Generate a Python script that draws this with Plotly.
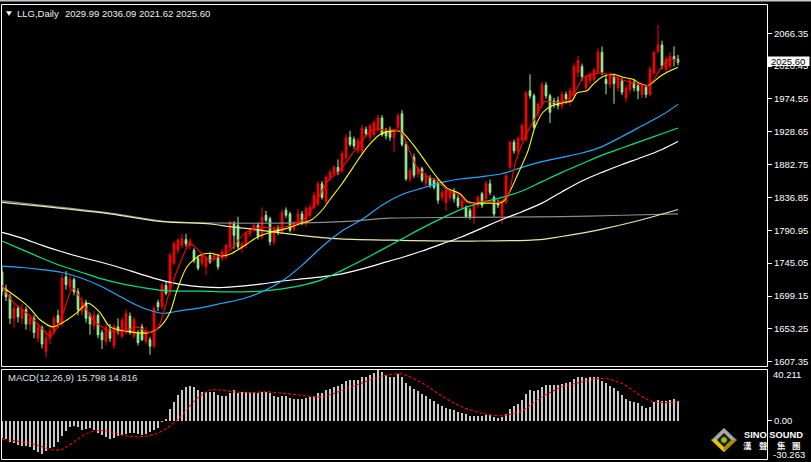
import plotly.graph_objects as go

# ---------------- data ----------------
IDX = list(range(170))

OPEN = [1733,1708,1698,1668,1682,1668,1680,1660,1668,1640,1655,1622,1640,1650,1672,1660,1726,1712,1722,1705,
        1678,1690,1672,1658,1672,1648,1636,1652,1630,1656,1643,1648,1671,1643,1647,1656,1636,1638,1629,1690,
        1684,1714,1705,1745,1763,1770,1778,1770,1763,1752,1745,1740,1756,1751,1754,1752,1754,1767,1800,1798,
        1766,1770,1786,1791,1798,1782,1812,1807,1775,1794,1789,1819,1814,1793,1802,1814,1800,1812,1823,1828,
        1856,1831,1865,1870,1879,1874,1893,1921,1918,1902,1902,1932,1921,1925,1932,1948,1930,1932,1921,1935,
        1954,1911,1863,1893,1870,1877,1856,1865,1861,1858,1837,1830,1837,1844,1836,1823,1823,1819,1808,1826,
        1842,1835,1856,1837,1830,1812,1830,1879,1914,1902,1918,1918,1986,1979,1955,1967,1994,1979,1972,1972,
        1965,1981,1970,1980,2012,2020,1990,2000,2002,2013,2040,2002,1995,2006,1990,2000,1976,1988,1998,1993,
        1981,1991,1981,2011,2041,2050,2016,2020,2034,2029.99]
HIGH = [1740,1715,1702,1690,1686,1688,1684,1674,1672,1662,1658,1650,1656,1672,1680,1730,1734,1728,1725,1710,
        1698,1694,1676,1678,1675,1652,1660,1660,1660,1668,1670,1680,1676,1670,1652,1660,1656,1642,1686,1694,
        1718,1720,1760,1776,1780,1786,1786,1780,1766,1756,1760,1755,1760,1760,1758,1765,1772,1805,1804,1810,
        1776,1790,1795,1800,1802,1823,1818,1810,1797,1798,1820,1823,1817,1804,1821,1818,1825,1828,1845,1860,
        1860,1868,1876,1882,1890,1902,1925,1930,1922,1920,1938,1936,1940,1945,1952,1952,1934,1936,1932,1955,
        1959,1915,1878,1898,1880,1880,1872,1868,1864,1862,1848,1850,1848,1850,1840,1836,1826,1822,1830,1840,
        1845,1860,1862,1840,1834,1832,1870,1916,1918,1922,1940,1986,2009,1982,1970,1998,1998,1982,1976,1978,
        1985,1985,1990,2025,2035,2024,2008,2012,2018,2045,2048,2008,2012,2010,2008,2004,1994,2003,2002,1997,
        1998,1995,2020,2042,2078,2056,2034,2040,2048,2036.09]
LOW = [1700,1692,1660,1655,1662,1660,1652,1650,1640,1635,1626,1613,1632,1645,1655,1656,1708,1706,1700,1672,
       1672,1662,1645,1652,1640,1625,1630,1635,1625,1645,1640,1645,1645,1640,1630,1636,1632,1617,1626,1678,
       1680,1700,1700,1742,1758,1766,1768,1764,1745,1735,1740,1728,1744,1748,1736,1748,1750,1764,1765,1765,
       1760,1766,1782,1788,1778,1778,1802,1770,1770,1784,1786,1808,1788,1790,1798,1798,1796,1808,1820,1825,
       1834,1828,1860,1866,1868,1870,1888,1908,1905,1898,1898,1922,1916,1922,1928,1922,1918,1916,1900,1930,
       1908,1860,1858,1864,1865,1858,1852,1850,1848,1828,1832,1818,1832,1830,1822,1820,1808,1806,1800,1822,
       1822,1832,1840,1810,1822,1800,1828,1875,1898,1898,1915,1915,1975,1932,1950,1962,1975,1941,1962,1960,
       1960,1968,1965,1975,2005,2000,1985,1995,1998,2010,2008,1981,1990,1968,1985,1980,1970,1982,1985,1974,
       1976,1976,1978,2008,2038,2016,2012,2016,2020,2021.62]
CLOSE = [1706,1698,1668,1682,1670,1680,1660,1668,1648,1655,1632,1640,1650,1668,1662,1724,1715,1722,1705,1680,
         1690,1668,1660,1672,1645,1638,1655,1640,1656,1650,1665,1675,1648,1666,1634,1638,1650,1629,1682,1684,
         1714,1703,1756,1772,1777,1779,1772,1776,1749,1738,1756,1752,1747,1756,1740,1761,1770,1802,1784,1768,
         1772,1786,1791,1798,1782,1809,1805,1775,1793,1789,1816,1812,1791,1800,1814,1803,1821,1823,1840,1856,
         1837,1865,1872,1879,1872,1898,1920,1911,1909,1916,1934,1926,1937,1941,1948,1925,1923,1921,1930,1951,
         1911,1863,1874,1868,1877,1861,1867,1854,1851,1833,1844,1846,1844,1835,1825,1832,1810,1810,1828,1837,
         1826,1856,1844,1814,1826,1830,1867,1914,1902,1919,1937,1983,1979,1935,1967,1994,1979,1956,1967,1965,
         1981,1975,1986,2020,2028,2006,2004,2009,2015,2040,2012,1996,2008,1996,2004,1984,1990,2000,1990,1986,
         1995,1981,2016,2039,2050,2021,2030,2034,2030,2025.60]

# slow moving averages, sampled every 5 bars
MA_IDX = [0,5,10,15,20,25,30,35,40,45,50,55,60,65,70,75,80,85,90,95,100,105,110,115,120,125,130,135,140,145,150,155,160,165,169]
MA_WHITE = [1788,1780,1770,1761,1753,1746,1738,1729,1721,1715,1712,1711,1713,1716,1720,1723,1726,1730,1737,1745,
            1753,1762,1772,1782,1794,1806,1817,1829,1845,1860,1872,1883,1893,1904,1915]
MA_GREEN = [1776,1764,1752,1741,1732,1723,1716,1711,1707,1706,1706,1705,1705,1706,1709,1714,1722,1735,1749,1764,
            1779,1794,1808,1821,1830,1837,1846,1859,1872,1884,1896,1906,1916,1926,1934]
MA_BLUE = [1741,1739,1736,1732,1724,1712,1697,1683,1675,1679,1683,1689,1695,1705,1720,1742,1768,1790,1806,1826,
           1841,1850,1858,1863,1866,1870,1879,1887,1893,1899,1908,1922,1937,1952,1967]

GREY_IDX = [0,27,40,57,85,97,115,140,155,169]
GREY_VAL = [1832,1815,1804,1801,1803,1808,1809,1810,1812,1814]
KHAKI_IDX = [0,27,40,52,57,62,74.5,84.5,99.5,119.5,134.5,139.5,149.5,159.5,169]
KHAKI_VAL = [1830,1814,1803,1800,1796,1793,1784,1779,1777,1776,1778,1782,1792,1805,1820]

YEL_IDX = [0,4.5,7,9.5,12.75,15.75,18.75,21.5,24.5,27,32,37,39.5,42,43.75,46.25,49.5,52,55,57.5,60.75,64,67,70.75,
           74.5,77.5,80,82,85,87.75,91.25,94.5,97.75,100,102.75,106.25,108.75,111.25,114.5,116.5,121.5,125,126.5,129,
           131.5,133.25,135.25,137.5,140.75,142.5,143.75,146.25,147.75,150.25,152.75,155.25,157.75,159.5,161.25,
           162.75,164.5,166.25,169]
YEL_VAL = [1712,1694,1682,1666,1656,1664,1676,1689,1676,1656,1649,1648,1656,1676,1707,1740,1756,1759,1755,1759,1770,
           1782,1788,1793,1800,1806,1819,1834,1856,1879,1907,1925,1930,1928,1911,1884,1865,1850,1842,1831,1829,1830,
           1840,1870,1902,1935,1956,1965,1970,1972,1983,1986,1995,2006,2009,2005,2002,1996,1993,1998,2006,2012,2019]

RED_IDX = [0,2.75,6.25,10.25,12,13.75,15.25,17.75,20.25,22.75,26.25,30.25,33.75,36.25,38.25,39.5,42,44.5,47,49.5,52,
           54.5,57,60.75,65,68.25,72.5,75.75,78.25,81.5,84,85.75,88.75,92.75,95.75,99.5,101.25,103.75,106.25,108.75,
           111.25,114.5,116.5,120.75,124,126.5,128.25,130.75,133.25,135.75,138.25,140.75,143.25,145.25,147,149.5,152,
           154.5,157,159.5,161.25,162.75,164.5,166.5,167.75,169]
RED_VAL = [1714,1691,1675,1652,1643,1655,1675,1710,1689,1666,1652,1649,1656,1649,1650,1661,1707,1745,1772,1761,1749,
           1755,1763,1787,1795,1794,1798,1808,1828,1860,1872,1884,1907,1932,1931,1930,1911,1879,1867,1860,1847,1840,
           1829,1832,1830,1840,1884,1921,1948,1971,1970,1972,1985,2004,2008,2011,2008,2002,1998,1995,1993,2000,2016,
           2029,2030,2027]

MACD = [-13.9,-14.7,-16.5,-17.8,-19.2,-20.0,-20.0,-21.0,-23.1,-24.4,-26.5,-23.6,-21.8,-20.5,-16.5,-12.0,-7.8,-4.6,-4.1,-4.6,
        -7.3,-6.8,-6.0,-7.3,-10.0,-11.2,-13.1,-14.7,-13.9,-12.0,-11.2,-10.5,-10.0,-9.4,-10.5,-11.2,-10.5,-8.6,-7.3,-6.0,
        -0.6,1.2,9.1,15.1,20.4,24.4,27.0,27.6,26.5,24.4,23.0,23.0,22.5,23.0,20.4,19.6,19.6,21.7,24.4,22.3,
        23.0,23.0,22.3,23.0,22.3,23.0,23.0,21.7,19.6,18.6,19.6,19.6,17.8,17.0,17.0,
        17.5,18,18.5,20,22,22,24,25.5,27,27.5,
        29.5,31.5,32,32,32.5,34.5,35,36.5,38,40.2,
        38.5,36.5,35,35,37,34.5,30,27.5,25,23.5,
        21,19.5,17.5,15.5,13,11.5,10.5,9.5,8.5,7,
        6.5,5,4,4,4,3.5,4.5,4.5,3,2.5,
        3,5.5,9.5,11.5,13.5,16.5,21.5,24,23.5,24.5,
        26.5,28,28,28.5,28.5,29.5,30,31,33,34.5,
        34.5,34,34.5,34.5,34.8,
        31.8,29.7,27.8,25.7,23.8,20.4,16.9,15.9,15.1,13.8,11.7,10.4,11.2,15.1,16.4,15.9,15.9,16.4,16.9,15.8]
SIG_IDX = [0,2.8,6.2,9.5,12,14.5,16.2,18.7,21.2,23.7,26.2,28.7,31.2,33.7,36.2,38.7,41.2,43.7,46.2,47.8,49.5,52,54.5,57.8,
           62.8,66.2,70.3,74.5,80,85,90,95,100,105,110,115,120,125,130,135,140,145,149.5,152,153.7,155.3,157,158.7,
           160.75,162.8,166.2,169]
SIG_VAL = [-14.7,-15.7,-17.3,-19.9,-22.6,-23.1,-20.5,-15.2,-10.0,-7.8,-8.1,-10.2,-12.0,-12.6,-12.0,-10.0,-6.0,0.6,8.6,
           15.0,19.5,24.4,24.4,23.0,22.3,23.0,21.7,20.4,19,24,30,35.5,37,30,19.5,11,6,4,8,19,26.8,30.8,33.6,32.8,31.0,
           29.1,25.7,21.8,17.8,15.1,14.4,14.8]

PRICE_TICKS = [1607.35,1653.25,1699.15,1745.05,1790.95,1836.85,1882.75,1928.65,1974.55,2020.45,2066.35]

# ---------------- geometry ----------------
W, H = 811, 462
ML, MR, MT, MB = 1, 44, 5, 3
PW = W - ML - MR
PH = H - MT - MB


def px(x):
    return (x - ML) / PW


def py(y):
    return (H - MB - y) / PH


FONT = "Liberation Sans"
fig = go.Figure()

fig.add_trace(go.Candlestick(
    x=IDX, open=OPEN, high=HIGH, low=LOW, close=CLOSE,
    increasing=dict(line=dict(color="#FF0000", width=1), fillcolor="#FF0000"),
    decreasing=dict(line=dict(color="#98F098", width=1), fillcolor="#98F098"),
    whiskerwidth=0, xaxis="x", yaxis="y", hoverinfo="skip"))


def line(xs, ys, color, width=1.2, dash=None, xa="x", ya="y"):
    fig.add_trace(go.Scatter(x=xs, y=ys, mode="lines", xaxis=xa, yaxis=ya, hoverinfo="skip",
                             line=dict(color=color, width=width, shape="spline", smoothing=0.8,
                                       dash=dash)))


line(GREY_IDX, GREY_VAL, "#8C8C8C")
line(KHAKI_IDX, KHAKI_VAL, "#EEE8AA")
line(MA_IDX, MA_WHITE, "#FFFFFF")
line(MA_IDX, MA_GREEN, "#00E47C")
line(MA_IDX, MA_BLUE, "#1EAAFF")
line(YEL_IDX, YEL_VAL, "#FFFF00", 1.1)
line(RED_IDX, RED_VAL, "#FF0000", 1.1)

fig.add_trace(go.Bar(x=IDX, y=MACD, width=0.3, marker=dict(color="#C8C8C8", line=dict(width=0)),
                     xaxis="x2", yaxis="y2", hoverinfo="skip"))
line(SIG_IDX, SIG_VAL, "#FF0000", 1.1, dash="3px,2px", xa="x2", ya="y2")

axx = dict(range=[-0.25, 191.25], showticklabels=False, showgrid=False, zeroline=False,
           ticks="", showline=False, fixedrange=True)

shapes = []


def rect(x0, y0, x1, y1, fill=None, lc="white", lw=1):
    shapes.append(dict(type="rect", xref="paper", yref="paper", x0=px(x0), x1=px(x1), y0=py(y0), y1=py(y1),
                       fillcolor=fill if fill else "rgba(0,0,0,0)", line=dict(color=lc, width=lw),
                       layer="above"))


def path(pts, fill, lc=None):
    d = "M " + " L ".join(f"{px(a):.5f},{py(b):.5f}" for a, b in pts) + " Z"
    shapes.append(dict(type="path", xref="paper", yref="paper", path=d, fillcolor=fill,
                       line=dict(color=lc if lc else fill, width=0.5), layer="above"))


# window strip and panel frames
rect(0, 0, 811, 1.6, fill="#C8C8C8", lw=0)
rect(1.5, 4.5, 767.5, 366.5)
rect(1.5, 369.5, 767.5, 459.5)
# price tag
rect(767.5, 56.5, 809.5, 66, fill="#FFFFFF", lw=0)
# header triangle
path([(6.5, 11.5), (11.5, 11.5), (9, 15.5)], "#FFFFFF")
# logo diamond
path([(724, 428), (736.5, 440), (724, 452), (711.5, 440)], "#A8A8A8", "#707070")
path([(711.5, 440), (724, 452), (724, 447), (716.5, 440)], "#E8C400")
path([(736.5, 440), (724, 452), (724, 447), (731.5, 440)], "#A88C00")
path([(724, 433), (731, 440), (724, 447), (717, 440)], "#151515", "#505050")
shapes.append(dict(type="circle", xref="paper", yref="paper", x0=px(720.8), x1=px(727.2), y0=py(443.2),
                   y1=py(436.8), fillcolor="#9CC028", line=dict(color="#3A4A00", width=1), layer="above"))


def text(x, y, s, size=9.5, color="#F0F0F0", anchor="left", family=FONT):
    return dict(xref="paper", yref="paper", x=px(x), y=py(y), text=s, showarrow=False, xanchor=anchor,
                yanchor="middle", font=dict(family=family, size=size, color=color))


annotations = [
    text(15, 13.5, "LLG,Daily"),
    text(62.5, 13.5, "2029.99 2036.09 2021.62 2025.60"),
    text(5.5, 377, "MACD(12,26,9) 15.798 14.816", color="#DCE4EC"),
    text(788.5, 61.5, "2025.60", color="#000000", anchor="center"),
    text(771, 374.5, "40.211", color="#FFFFFF"),
    text(771, 454, "-30.263", color="#FFFFFF"),
    text(742, 434.5, "<b>SINO SOUND</b>", size=9.3, color="#FFFFFF"),
]
for cx, ch in zip([747.5, 763.5, 781, 796.5], ["漢", "聲", "集", "團"]):
    annotations.append(text(cx, 444.5, "<b>" + ch + "</b>", size=8.5, color="#F4F4F4", anchor="center",
                            family="Noto Sans CJK TC"))

fig.update_layout(
    width=W, height=H, margin=dict(l=ML, r=MR, t=MT, b=MB, pad=0),
    paper_bgcolor="#000000", plot_bgcolor="#000000", showlegend=False, hovermode=False,
    boxgap=0.4, bargap=0,
    xaxis=dict(axx, domain=[0, 1], anchor="y", rangeslider=dict(visible=False)),
    xaxis2=dict(axx, domain=[0, 1], anchor="y2"),
    yaxis=dict(domain=[py(366), 1], range=[1601.3, 2105.9], side="right", anchor="x",
               tickvals=PRICE_TICKS, ticktext=[f"{v:.2f}" for v in PRICE_TICKS],
               ticks="outside", ticklen=4, tickcolor="#FFFFFF", tickwidth=1,
               tickfont=dict(family=FONT, size=9.5, color="#FFFFFF"),
               showgrid=False, zeroline=False, showline=False, fixedrange=True),
    yaxis2=dict(domain=[0, py(370)], range=[-30.263, 40.211], side="right", anchor="x2",
                tickvals=[0], ticktext=["0.00"], ticks="outside", ticklen=4, tickcolor="#FFFFFF",
                tickfont=dict(family=FONT, size=9.5, color="#FFFFFF"),
                showgrid=False, zeroline=False, showline=False, fixedrange=True),
    shapes=shapes, annotations=annotations,
)

fig.write_html("out.html", config={"staticPlot": True},
               post_script="document.body.style.margin='0';document.body.style.background='#000';")
